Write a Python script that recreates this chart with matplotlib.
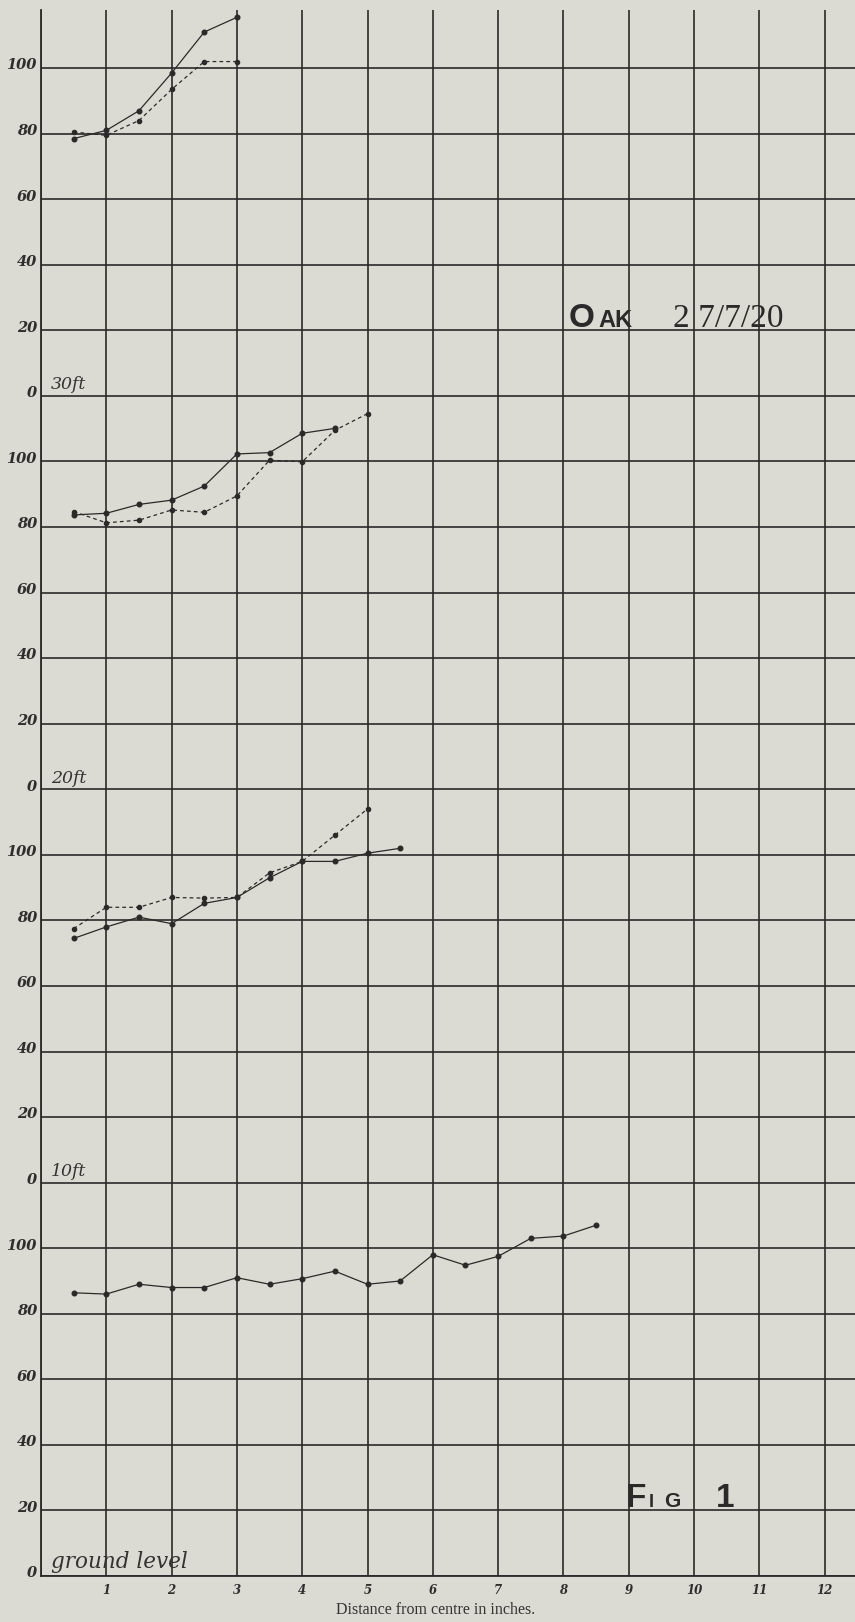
import matplotlib
matplotlib.use("Agg")
import matplotlib.pyplot as plt
import matplotlib.transforms as mtrans

# ---------------- data ----------------
# vertical offset of each panel (each panel spans 120 units)
panel_offsets = {"30ft": 360, "20ft": 240, "10ft": 120, "ground level": 0}

# 30 ft panel (top)
x_30_solid = [0.5, 1.0, 1.5, 2.0, 2.5, 3.0]
y_30_solid = [78.5, 81.0, 87.0, 98.5, 111.0, 115.5]
x_30_dashed = [0.5, 1.0, 1.5, 2.0, 2.5, 3.0]
y_30_dashed = [80.5, 79.5, 84.0, 93.5, 102.0, 102.0]

# 20 ft panel
x_20_solid = [0.5, 1.0, 1.5, 2.0, 2.5, 3.0, 3.5, 4.0, 4.5]
y_20_solid = [83.7, 84.2, 86.9, 88.2, 92.5, 102.3, 102.7, 108.6, 110.1]
x_20_dashed = [0.5, 1.0, 1.5, 2.0, 2.5, 3.0, 3.5, 4.0, 4.5, 5.0]
y_20_dashed = [84.7, 81.3, 82.1, 85.2, 84.5, 89.5, 100.4, 99.9, 109.5, 114.6]

# 10 ft panel
x_10_solid = [0.5, 1.0, 1.5, 2.0, 2.5, 3.0, 3.5, 4.0, 4.5, 5.0, 5.5]
y_10_solid = [74.5, 78.0, 81.0, 79.0, 85.2, 87.0, 93.0, 98.0, 98.0, 100.5, 102.0]
x_10_dashed = [0.5, 1.0, 1.5, 2.0, 2.5, 3.0, 3.5, 4.0, 4.5, 5.0]
y_10_dashed = [77.5, 84.0, 84.0, 87.0, 86.8, 87.0, 94.5, 98.0, 106.0, 114.0]

# ground level panel
x_ground = [0.5, 1.0, 1.5, 2.0, 2.5, 3.0, 3.5, 4.0, 4.5, 5.0, 5.5, 6.0, 6.5, 7.0, 7.5, 8.0, 8.5]
y_ground = [86.4, 86.0, 89.0, 88.0, 88.0, 91.0, 89.0, 90.7, 93.0, 89.0, 90.0, 98.0, 94.8, 97.5, 103.0, 103.7, 107.0]

x_ticks = list(range(13))
x_tick_labels = ["", "1", "2", "3", "4", "5", "6", "7", "8", "9", "10", "11", "12"]
y_ticks = list(range(0, 480, 20))
y_tick_labels = [str(v % 120) for v in y_ticks]

title_name = "OAK"
title_date = "2 7/7/20"
fig_text = "FIG 1"
x_label = "Distance from centre in inches."

# ---------------- style ----------------
W, H = 855, 1622
BG = "#dcdbd3"
INK = "#2a2a2a"

fig = plt.figure(figsize=(W / 100, H / 100), dpi=100, facecolor=BG)
x0_px, x_right_px = 41, 855
y0_px, ytop_px = 1576, 10
ax = fig.add_axes([x0_px / W, (H - y0_px) / H, (x_right_px - x0_px) / W, (y0_px - ytop_px) / H])
ax.set_facecolor(BG)
px_per_in = 65.3
px_per_unit = 3.278
ax.set_xlim(0, (x_right_px - x0_px) / px_per_in)
ax.set_ylim(0, (y0_px - ytop_px) / px_per_unit)

for s in ["top", "right"]:
    ax.spines[s].set_visible(False)
for s in ["left", "bottom"]:
    ax.spines[s].set_color(INK)
    ax.spines[s].set_linewidth(1.3)

ax.set_xticks(x_ticks)
ax.set_xticklabels(x_tick_labels, family="DejaVu Serif", style="italic",
                   weight="bold", fontsize=8.5, color="#2e2e2e")
ax.set_yticks(y_ticks)
ax.set_yticklabels(y_tick_labels, family="DejaVu Serif", style="italic",
                   weight="bold", fontsize=10.5, color="#2e2e2e")
ax.tick_params(axis="both", length=0)
ax.tick_params(axis="x", pad=6)
ax.tick_params(axis="y", pad=3)
for lab in ax.get_yticklabels():
    lab.set_transform(lab.get_transform() +
                      mtrans.ScaledTranslation(0, 3 / 72, fig.dpi_scale_trans))
ax.grid(True, color=INK, linewidth=1.2)
ax.set_axisbelow(True)

solid_kw = dict(color=INK, linewidth=0.9, marker="o", markersize=3.3, zorder=3)
dash_kw = dict(color=INK, linewidth=0.9, linestyle=(0, (3, 2.5)), marker="o",
               markersize=3.0, zorder=3)

o30 = panel_offsets["30ft"]
o20 = panel_offsets["20ft"]
o10 = panel_offsets["10ft"]
og = panel_offsets["ground level"]
ax.plot(x_30_solid, [v + o30 for v in y_30_solid], **solid_kw)
ax.plot(x_30_dashed, [v + o30 for v in y_30_dashed], **dash_kw)
ax.plot(x_20_solid, [v + o20 for v in y_20_solid], **solid_kw)
ax.plot(x_20_dashed, [v + o20 for v in y_20_dashed], **dash_kw)
ax.plot(x_10_solid, [v + o10 for v in y_10_solid], **solid_kw)
ax.plot(x_10_dashed, [v + o10 for v in y_10_dashed], **dash_kw)
ax.plot(x_ground, [v + og for v in y_ground], **solid_kw)

# panel labels
for name, off in panel_offsets.items():
    size = 15.5 if name == "ground level" else 12.5
    ax.text(0.15, off + 0.8, name, family="DejaVu Serif", style="italic",
            fontsize=size, color="#333333", va="bottom", ha="left", zorder=4)


def px_text(s, xp, yp, size, **kw):
    fig.text(xp / W, 1 - yp / H, s, fontsize=size, va="baseline", ha="left",
             color="#2a2a2a", **kw)


# OAK 27/7/20  (small caps)
px_text(title_name[0], 569, 327, 24, family="Liberation Sans", weight="bold")
px_text(title_name[1:], 598, 327, 17, family="Liberation Sans", weight="bold")
px_text(title_date, 673, 327, 24, family="Liberation Serif")

# FIG 1
f_parts = fig_text.split(" ")
px_text(f_parts[0][0], 626, 1507, 24, family="Liberation Sans", weight="bold")
px_text(f_parts[0][1], 649, 1507, 13, family="Liberation Sans", weight="bold")
px_text(f_parts[0][2], 664, 1507, 15, family="Liberation Sans", weight="bold")
px_text(f_parts[1], 716, 1507, 24, family="Liberation Sans", weight="bold")

ax.set_xlabel(x_label, family="Liberation Serif", fontsize=11.5, color="#333333")
ax.xaxis.set_label_coords((436 - x0_px) / (x_right_px - x0_px),
                          -(1610 - y0_px) / (y0_px - ytop_px))
ax.xaxis.label.set_va("center")

fig.savefig("out.png", dpi=100, facecolor=BG)
